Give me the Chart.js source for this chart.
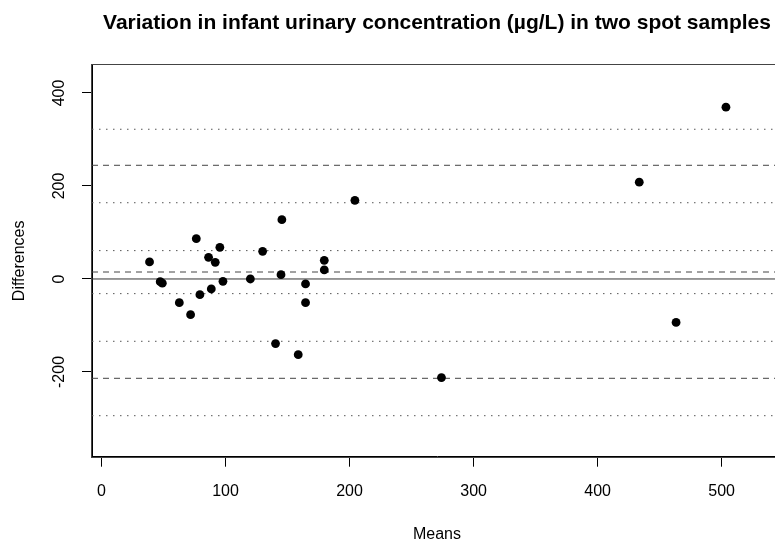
<!DOCTYPE html>
<html>
<head>
<meta charset="utf-8">
<script src="https://cdn.jsdelivr.net/npm/chart.js@4"></script>
<style>
	html, body { margin: 0; padding: 0; background: #fff; overflow: hidden; }
	#wrap { width: 790px; height: 541px; }
</style>
</head>
<body>
<div id="wrap"><canvas id="ba"></canvas></div>
<script>
// ── Data ────────────────────────────────────────────────────────────────────

const means = [38.7, 47.3, 49, 62.7, 71.8, 76.4, 79.3, 86.3, 88.5, 91.7, 95.4, 97.9, 120, 129.9,
	140.3, 145.4, 144.7, 158.6, 164.5, 164.5, 179.6, 179.6, 204.3, 274.1, 433.6, 463.3, 503.5]
const diffs = [36.6, -5.8, -9, -51, -76.7, 86.7, -33.7, 46.6, -21.5, 35.8, 68, -5, 0, 59.5,
	-139, 127.5, 9.3, -162.8, -10.7, -51, 40.2, 19.4, 169.2, -212, 208.2, -93.5, 369.5]

const zeroLine = 0
const meanDiff = 15
const limitsOfAgreement = [244.5, -213.6]
const confidenceLines = [322, 164, 61, -31.5, -134, -294]

const xTicks = [0, 100, 200, 300, 400, 500]
const yTicks = [-200, 0, 200, 400]
const xLimits = [-7.7, 548.7]
const yLimits = [-382.2, 460.2]

// ── Chart ───────────────────────────────────────────────────────────────────

const FONT = "'Liberation Sans', Arial, sans-serif"

function hline(y, dash, color) {
	return {
		data: [{ x: xLimits[0], y: y }, { x: xLimits[1], y: y }],
		showLine: true,
		borderColor: color,
		borderWidth: 1,
		borderDash: dash,
		pointRadius: 0,
		fill: false,
	}
}

const boxPlugin = {
	id: 'box',
	afterDatasetsDraw(chart) {
		const { ctx, chartArea: a } = chart
		ctx.save()
		ctx.strokeStyle = '#444'
		ctx.lineWidth = 1
		ctx.strokeRect(Math.round(a.left) - 0.5, Math.round(a.top) - 0.5,
			Math.round(a.right - a.left) + 1, Math.round(a.bottom - a.top) + 1)
		ctx.restore()
	},
}

const datasets = [
	{
		data: means.map((m, i) => ({ x: m, y: diffs[i] })),
		backgroundColor: '#000',
		borderWidth: 0,
		pointRadius: 4.4,
	},
	hline(zeroLine, [], '#333'),
	hline(meanDiff, [6, 5], '#444'),
	...limitsOfAgreement.map(v => hline(v, [6, 5], '#444')),
	...confidenceLines.map(v => hline(v, [1.5, 5.5], '#555')),
]

new Chart(document.getElementById('ba'), {
	type: 'scatter',
	data: { datasets },
	plugins: [boxPlugin],
	options: {
		responsive: true,
		maintainAspectRatio: false,
		animation: false,
		layout: { padding: { left: 0, right: 8, top: 0, bottom: 0 } },
		plugins: {
			legend: { display: false },
			tooltip: { enabled: false },
			title: {
				display: true,
				fullSize: false,
				text: 'Variation in infant urinary concentration (µg/L) in two spot samples',
				color: '#000',
				font: { family: FONT, size: 21, weight: 'bold' },
				padding: { top: 10.8, bottom: 29 },
			},
		},
		scales: {
			x: {
				type: 'linear',
				min: xLimits[0],
				max: xLimits[1],
				afterBuildTicks: ax => { ax.ticks = xTicks.map(v => ({ value: v })) },
				afterFit: s => { s.height = 84.3 },
				grid: { drawOnChartArea: false, drawTicks: true, tickLength: 10, color: '#000' },
				border: { display: true, color: '#000' },
				ticks: { color: '#000', padding: 15, maxRotation: 0, font: { family: FONT, size: 16 } },
				title: {
					display: true,
					text: 'Means',
					color: '#000',
					font: { family: FONT, size: 16 },
					padding: { top: 0, bottom: -3.6 },
				},
			},
			y: {
				type: 'linear',
				min: yLimits[0],
				max: yLimits[1],
				afterBuildTicks: ax => { ax.ticks = yTicks.map(v => ({ value: v })) },
				afterFit: s => { s.width = 92 },
				grid: { drawOnChartArea: false, drawTicks: true, tickLength: 10, color: '#000' },
				border: { display: true, color: '#000' },
				ticks: {
					color: '#000',
					padding: 6,
					minRotation: 90,
					maxRotation: 90,
					crossAlign: 'center',
					font: { family: FONT, size: 16 },
				},
				title: {
					display: true,
					text: 'Differences',
					color: '#000',
					font: { family: FONT, size: 16 },
					padding: { top: 10, bottom: 0 },
				},
			},
		},
	},
})
</script>
</body>
</html>
